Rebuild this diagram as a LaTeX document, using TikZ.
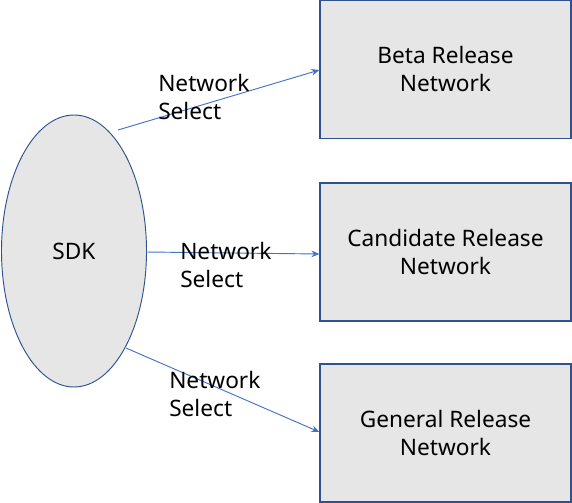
\documentclass[tikz,border=0pt]{standalone}
\usepackage{fontspec}
\setmainfont{Noto Sans}
\usetikzlibrary{shapes.geometric,arrows.meta}
\definecolor{boxfill}{HTML}{E6E6E6}
\definecolor{boxline}{HTML}{2F528F}
\definecolor{arrowc}{HTML}{4472C4}
\begin{document}
\begin{tikzpicture}[x=0.75pt,y=-0.75pt,
  netbox/.style={draw=boxline,fill=boxfill,line width=0.9pt,minimum width=251*0.75pt,minimum height=138*0.75pt,inner sep=0pt,align=center,font=\fontsize{17}{21}\selectfont},
  sel/.style={align=left,anchor=west,inner sep=0pt,font=\fontsize{17}{21}\selectfont},
  conn/.style={draw=arrowc,line width=0.7pt,-{Stealth[length=6pt,width=5pt]}}]
\useasboundingbox (0,0) rectangle (572,503);
\node[ellipse,draw=boxline,fill=boxfill,line width=0.7pt,minimum width=145*0.75pt,minimum height=272*0.75pt,inner sep=0pt,font=\fontsize{17}{21}\selectfont] (sdk) at (74,251) {SDK};
\node[netbox] (beta) at (445.5,69.5) {Beta Release\\Network};
\node[netbox] (cand) at (445.5,252) {Candidate Release\\Network};
\node[netbox] (gen) at (445.5,433) {General Release\\Network};
\coordinate (s1) at (118,130);
\coordinate (s2) at (146,252);
\coordinate (s3) at (126,348);
\draw[conn] (s1) -- (beta.west |- 0,70);
\draw[conn] (s2) -- (cand.west |- 0,254);
\draw[conn] (s3) -- (gen.west |- 0,432);
\node[sel] (l1) at (158,97) {Network\\Select};
\node[sel] (l2) at (180,265) {Network\\Select};
\node[sel] (l3) at (169,394) {Network\\Select};
\end{tikzpicture}
\end{document}
